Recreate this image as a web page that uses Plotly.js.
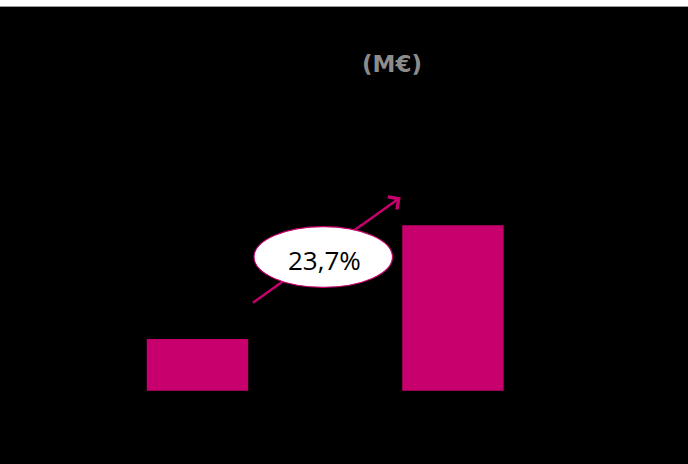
<!DOCTYPE html>
<html>
<head>
<meta charset="utf-8">
<script src="https://cdn.plot.ly/plotly-3.0.1.min.js"></script>
<style>
  html, body { margin: 0; padding: 0; background: #000; }
  #chart { width: 688px; height: 464px; }
</style>
</head>
<body>
<div id="chart"></div>
<script>
// Data (axis hidden in the reference; values consistent with the +23,7% label)
const categories = ['Période 1', 'Période 2'];
const values = [100, 123.7];
const axisBase = 89.2;          // value axis does not start at zero
const growthLabel = '23,7%';
const unitLabel = '(M€)';

const magenta = '#C8006E';
const W = 688, H = 464;
const px = x => x / W;
const py = y => 1 - y / H;

const trace = {
  type: 'bar',
  x: categories,
  y: values.map(v => v - axisBase),
  base: values.map(() => axisBase),
  width: 0.397,
  marker: { color: magenta, line: { width: 0 } },
  hoverinfo: 'skip'
};

const layout = {
  width: W, height: H,
  margin: { l: 0, r: 0, t: 0, b: 0, pad: 0 },
  paper_bgcolor: '#000000',
  plot_bgcolor: '#000000',
  showlegend: false,
  xaxis: { type: 'category', range: [-0.773, 1.92], visible: false, fixedrange: true },
  yaxis: { range: [73.96, 170.6], visible: false, fixedrange: true },
  shapes: [
    // white strip at top of the picture
    { type: 'rect', xref: 'paper', yref: 'paper', x0: 0, x1: 1, y0: py(6), y1: 1,
      fillcolor: '#ffffff', line: { width: 0 }, layer: 'above' },
    { type: 'line', xref: 'paper', yref: 'paper', x0: 0, x1: 1, y0: py(6.5), y1: py(6.5),
      line: { color: '#9a9a9a', width: 1 }, layer: 'above' },
    // arrow shaft (passes under the ellipse)
    { type: 'line', xref: 'paper', yref: 'paper',
      x0: px(253), y0: py(302.7), x1: px(362), y1: py(224.8),
      line: { color: magenta, width: 2.5 }, layer: 'above' },
    // ellipse
    { type: 'circle', xref: 'paper', yref: 'paper',
      x0: px(254), x1: px(392.5), y0: py(287.3), y1: py(226.7),
      fillcolor: '#ffffff', line: { color: magenta, width: 1.2 }, layer: 'above' }
  ],
  annotations: [
    {
      xref: 'paper', yref: 'paper', x: px(392), y: py(64.5),
      text: '<b>' + unitLabel + '</b>', showarrow: false,
      xanchor: 'center', yanchor: 'middle',
      font: { family: 'DejaVu Sans', size: 23, color: '#8c8c8c' }
    },
    {
      xref: 'paper', yref: 'paper', x: px(324), y: py(259.5),
      text: growthLabel, showarrow: false,
      xanchor: 'center', yanchor: 'middle',
      font: { family: 'Open Sans', size: 26, color: '#000000' }
    },
    // arrow head segment
    {
      xref: 'paper', yref: 'paper', x: px(400.7), y: py(197.3),
      ax: 359.3 - 400.7, ay: 226.8 - 197.3,
      text: ' ', font: { size: 1 },
      showarrow: true, arrowhead: 4, arrowsize: 1.2, arrowwidth: 2.5,
      arrowcolor: magenta, standoff: 0, startstandoff: 0
    }
  ]
};

Plotly.newPlot('chart', [trace], layout, { displayModeBar: false, staticPlot: true });
</script>
</body>
</html>
